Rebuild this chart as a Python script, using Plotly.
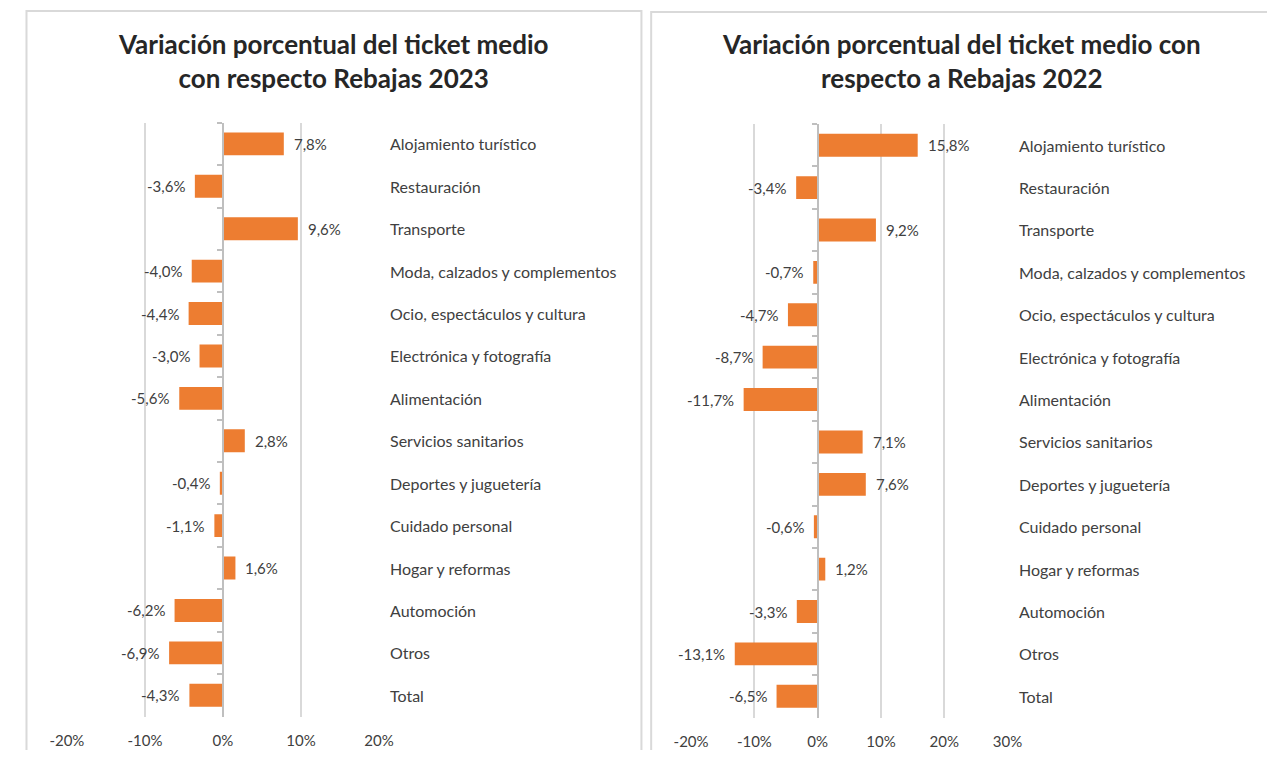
import plotly.graph_objects as go

categories = ["Alojamiento turístico", "Restauración", "Transporte",
              "Moda, calzados y complementos", "Ocio, espectáculos y cultura",
              "Electrónica y fotografía", "Alimentación", "Servicios sanitarios",
              "Deportes y juguetería", "Cuidado personal", "Hogar y reformas",
              "Automoción", "Otros", "Total"]
values_2023 = [7.8, -3.6, 9.6, -4.0, -4.4, -3.0, -5.6, 2.8, -0.4, -1.1, 1.6, -6.2, -6.9, -4.3]
values_2022 = [15.8, -3.4, 9.2, -0.7, -4.7, -8.7, -11.7, 7.1, 7.6, -0.6, 1.2, -3.3, -13.1, -6.5]
ticks_left = [-20, -10, 0, 10, 20]
ticks_right = [-20, -10, 0, 10, 20, 30]
title_left = "Variación porcentual del ticket medio<br>con respecto Rebajas 2023"
title_right = "Variación porcentual del ticket medio con<br>respecto a Rebajas 2022"

# page has an 8px body margin; size the figure so it fits in the window
OFF = 8
W, H = 1275 - 2 * OFF, 758 - 2 * OFF
ORANGE = "#ED7D31"
TXT = "#404040"
GRID = "#d9d9d9"
FONT = "Lato"


def px(x):
    return (x - OFF) / W


def py(y):
    return (H - (y - OFF)) / H


panels = [
    dict(vals=values_2023, ticks=ticks_left, rng=[-20, 20], dom=[px(50), px(370.5)],
         ydom=[py(716.5), py(122.7)], title=title_left, tx=px(323), xa="x", ya="y"),
    dict(vals=values_2022, ticks=ticks_right, rng=[-20, 30], dom=[px(691), px(1016)],
         ydom=[py(717.5), py(124)], title=title_right, tx=px(969), xa="x2", ya="y2"),
]

fig = go.Figure()
annotations = []
layout = {}


def fmt(v):
    return f"{v:.1f}".replace(".", ",") + "%"


for i, p in enumerate(panels):
    fig.add_trace(go.Bar(
        x=p["vals"], y=categories, orientation="h",
        marker=dict(color=ORANGE, line=dict(width=0)),
        xaxis=p["xa"], yaxis=p["ya"], showlegend=False, hoverinfo="skip",
    ))
    sfx = "" if i == 0 else "2"
    zero_pos = p["dom"][0] + (0 - p["rng"][0]) / (p["rng"][1] - p["rng"][0]) * (p["dom"][1] - p["dom"][0])
    layout["xaxis" + sfx] = dict(
        domain=p["dom"], range=p["rng"], anchor=p["ya"],
        tickvals=p["ticks"], ticktext=[f"{t}%" for t in p["ticks"]],
        showgrid=True, gridcolor=GRID, gridwidth=1.5, zeroline=False,
        showline=False, ticks="", tickfont=dict(family=FONT, size=15, color=TXT),
        ticklabelstandoff=13, fixedrange=True,
    )
    layout["yaxis" + sfx] = dict(
        domain=p["ydom"], anchor="free", position=zero_pos,
        type="category", categoryorder="array", categoryarray=categories,
        autorange="reversed", showticklabels=False, showgrid=False, zeroline=False,
        showline=True, linecolor="#bfbfbf", linewidth=1.5,
        ticks="outside", tickson="boundaries", ticklen=5, tickcolor="#bfbfbf", tickwidth=1.5,
        fixedrange=True,
    )
    xref = p["xa"]
    yref = p["ya"]
    for c, v in zip(categories, p["vals"]):
        annotations.append(dict(
            x=v, y=c, xref=xref, yref=yref, text=fmt(v), showarrow=False,
            xanchor="left" if v >= 0 else "right", xshift=8 if v >= 0 else -8,
            font=dict(family=FONT, size=15, color=TXT),
        ))
        annotations.append(dict(
            x=1, y=c, xref=xref + " domain", yref=yref, text=c, showarrow=False,
            xanchor="left", xshift=9,
            font=dict(family=FONT, size=16, color=TXT),
        ))
    annotations.append(dict(
        x=p["tx"], y=py(61), xref="paper", yref="paper", text=p["title"],
        showarrow=False, xanchor="center", yanchor="middle",
        font=dict(family=FONT, size=26, color="#262626", weight="bold"),
    ))

shapes = [
    dict(type="rect", xref="paper", yref="paper", x0=px(8.5), x1=px(640), y0=py(800), y1=py(11),
         line=dict(color=GRID, width=2), fillcolor="rgba(0,0,0,0)", layer="below"),
    dict(type="rect", xref="paper", yref="paper", x0=px(650), x1=px(1320), y0=py(800), y1=py(12),
         line=dict(color=GRID, width=2), fillcolor="rgba(0,0,0,0)", layer="below"),
]

fig.update_layout(
    width=W, height=H, margin=dict(l=0, r=0, t=0, b=0),
    paper_bgcolor="white", plot_bgcolor="white",
    bargap=0.46, annotations=annotations, shapes=shapes,
    **layout,
)

fig.write_html("out.html", config={"displayModeBar": False})
